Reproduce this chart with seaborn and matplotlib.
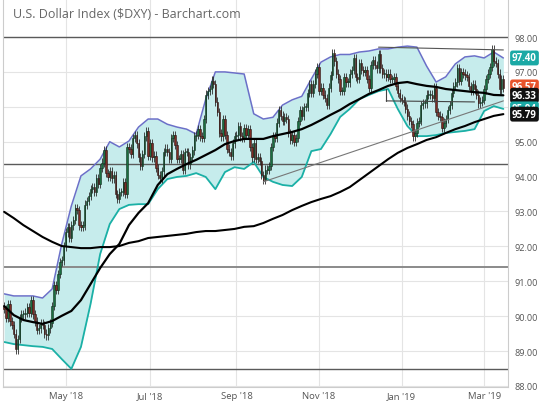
import numpy as np
import pandas as pd
import seaborn as sns
import matplotlib
matplotlib.use("Agg")
import matplotlib.pyplot as plt
import matplotlib.transforms as mtransforms

# daily closes of $DXY, one list per month (trading days)
mar18 = [90.20, 89.95, 90.35, 89.85, 89.75, 89.50, 89.05, 89.35, 89.95, 90.05, 90.05]
apr18 = [90.10, 90.25, 90.10, 90.45, 90.05, 89.85, 89.60, 89.65, 89.80, 89.75, 89.50,
         89.45, 89.65, 89.80, 90.30, 90.90, 90.75, 91.20, 91.55, 91.60, 92.00]
may18 = [92.40, 92.55, 92.25, 92.60, 92.75, 93.10, 93.05, 92.60, 92.55, 92.60, 93.20, 93.30,
         93.45, 93.65, 93.70, 93.55, 93.95, 93.80, 94.25, 94.40, 94.75, 94.10, 94.00]
jun18 = [94.15, 93.95, 94.05, 93.50, 93.35, 93.55, 93.55, 93.85, 93.50, 94.85, 94.80,
         94.65, 95.10, 95.20, 94.95, 94.55, 94.30, 94.65, 95.15, 95.30, 94.60]
jul18 = [94.95, 94.55, 94.60, 94.25, 94.05, 93.95, 94.15, 94.70, 94.80, 94.70, 94.50,
         95.10, 95.20, 94.90, 94.50, 94.50, 94.65, 94.20, 94.70, 94.70, 94.35, 94.55]
aug18 = [94.75, 95.15, 95.20, 95.35, 95.15, 95.10, 95.65, 96.35, 96.45, 96.50, 96.75, 96.65,
         96.15, 95.85, 95.25, 95.15, 95.65, 95.20, 94.80, 94.70, 94.60, 94.95, 95.15]
sep18 = [95.20, 95.45, 95.15, 95.10, 95.40, 95.20, 95.35, 94.85, 94.55, 94.95,
         94.50, 94.55, 94.45, 94.05, 93.90, 94.20, 94.20, 94.30, 94.85, 95.15]
oct18 = [95.10, 95.55, 95.90, 95.75, 95.60, 95.70, 95.65, 95.25, 95.05, 95.20, 95.00, 95.10,
         95.60, 95.90, 95.75, 96.00, 96.00, 96.40, 96.65, 96.40, 96.65, 96.95, 97.15]
nov18 = [96.45, 96.55, 96.35, 96.25, 96.05, 96.55, 96.90, 97.55, 97.30, 96.95, 96.80,
         96.45, 96.45, 96.85, 96.70, 96.70, 96.95, 97.05, 97.40, 96.85, 96.80, 97.25]
dec18 = [97.05, 97.00, 97.05, 96.80, 96.55, 97.20, 97.35, 97.20, 97.10, 97.50, 97.10,
         96.95, 96.95, 96.85, 96.95, 96.80, 96.80, 96.85, 96.60, 96.40, 96.25]
jan19 = [96.20, 96.15, 95.95, 95.75, 95.60, 95.50, 95.15, 95.25, 95.55, 95.60, 96.05, 96.10,
         96.10, 96.35, 96.35, 96.35, 96.25, 96.55, 95.85, 95.75, 95.70, 95.40, 95.55]
feb19 = [95.65, 95.90, 96.05, 96.40, 96.60, 96.70, 97.10, 96.75, 97.00, 96.95,
         96.90, 96.85, 96.60, 96.45, 96.65, 96.50, 96.35, 96.10, 96.15, 96.20]
mar19 = [96.50, 96.80, 96.95, 97.15, 97.65, 97.30, 97.25, 96.95, 96.50, 96.80, 96.55]
first_open = 90.30

# indicator values read every 5th trading day
upper_band = [90.64, 90.58, 90.58, 90.58, 90.52, 90.78, 92.07, 93.16, 94.02, 94.22, 94.50,
              95.00, 94.85, 95.02, 95.42, 95.65, 95.65, 95.50, 95.42, 95.36, 95.22, 96.22,
              97.00, 97.00, 96.97, 96.94, 95.80, 95.65, 95.70, 96.05, 96.20, 96.30, 96.80,
              97.28, 97.43, 97.50, 97.50, 97.57, 97.60, 97.66, 97.66, 97.71, 97.74, 97.71,
              97.17, 96.71, 96.86, 97.23, 97.43, 97.46, 97.40, 97.57, 97.40]
lower_band = [89.26, 89.20, 89.17, 89.14, 89.12, 89.06, 88.77, 88.49, 89.12, 90.35, 91.78,
              92.64, 93.07, 93.19, 93.21, 93.21, 93.64, 93.93, 93.99, 94.02, 94.10, 93.99,
              93.64, 94.13, 94.27, 94.22, 94.42, 93.99, 93.85, 93.76, 93.73, 93.99, 94.73,
              94.79, 95.22, 95.71, 95.94, 96.22, 96.34, 96.45, 96.51, 95.94, 95.45, 95.16,
              95.16, 95.19, 95.25, 95.28, 95.31, 95.36, 95.88, 96.02, 95.94]
ma50 = [90.29, 90.03, 89.89, 89.83, 89.78, 89.86, 90.01, 90.15, 90.46, 90.92, 91.38,
        91.78, 92.07, 92.61, 92.96, 93.24, 93.76, 94.07, 94.22, 94.36, 94.48, 94.62,
        94.76, 94.93, 95.02, 95.08, 95.08, 95.08, 95.16, 95.22, 95.28, 95.36, 95.48,
        95.62, 95.77, 95.91, 96.08, 96.22, 96.37, 96.48, 96.60, 96.68, 96.71, 96.65,
        96.60, 96.57, 96.51, 96.48, 96.45, 96.42, 96.40, 96.34, 96.33]
ma200 = [92.99, 92.81, 92.61, 92.44, 92.27, 92.13, 92.01, 91.98, 91.95, 91.95, 91.98,
         91.98, 92.01, 92.10, 92.15, 92.24, 92.27, 92.30, 92.33, 92.36, 92.41, 92.44,
         92.44, 92.47, 92.50, 92.56, 92.58, 92.67, 92.79, 92.90, 93.04, 93.16, 93.27,
         93.36, 93.44, 93.56, 93.70, 93.90, 94.10, 94.30, 94.50, 94.68, 94.82, 94.93,
         95.05, 95.13, 95.25, 95.36, 95.45, 95.56, 95.65, 95.74, 95.79]

# levels and drawn trend lines
levels = [98.0, 94.35, 91.4, 88.5]
trend_dates = ["2018-09-21", "2019-03-15"]
trend_vals = [93.85, 96.17]
resist_dates = ["2018-12-14", "2019-03-15"]
resist_vals = [97.71, 97.63]
box_dates = ["2018-12-20", "2019-02-22"]
box_vals = [96.17, 96.14]
box_top = 96.51

# last values shown in the price tags
tags = [("97.40", 97.40, "#1aa9a5"), ("96.57", 96.57, "#e8532b"),
        ("96.33", 96.33, "#111111"), ("95.94", 95.94, "#1aa9a5"),
        ("95.79", 95.79, "#111111")]

sns.set_theme(style="white")
plt.rcParams['font.family'] = ['Open Sans', 'DejaVu Sans']

days = pd.bdate_range("2018-03-16", "2019-03-15")
closes = np.array(mar18 + apr18 + may18 + jun18 + jul18 + aug18 + sep18 + oct18
                  + nov18 + dec18 + jan19 + feb19 + mar19)
n = len(closes)
days = days[:n]
pos = np.arange(n)
opens = np.concatenate([[first_open], closes[:-1]])

sample_pos = pos[::5]
ind = pd.DataFrame({"pos": sample_pos, "upper": upper_band, "lower": lower_band,
                    "ma50": ma50, "ma200": ma200})

fig = plt.figure(figsize=(5.4, 4.1), dpi=100)
ax = fig.add_axes([3 / 540, 22 / 410, 505 / 540, 388 / 410])

ax.fill_between(ind["pos"], ind["lower"], ind["upper"], color="#c6ecec", lw=0, zorder=1)
sns.lineplot(data=ind, x="pos", y="upper", ax=ax, color="#6b70c8", lw=1.1, zorder=2)
sns.lineplot(data=ind, x="pos", y="lower", ax=ax, color="#1bb0a6", lw=1.3, zorder=2)

for lv in levels:
    c = "#8a8a8a" if lv == 91.4 else "#5a5a5a"
    ax.axhline(lv, color=c, lw=1.4 if lv == 91.4 else 1.0, zorder=1.5)

# candles
wick = 0.12
up = closes >= opens
hi = np.maximum(opens, closes)
lo = np.minimum(opens, closes)
ax.vlines(pos, lo - wick, hi + wick, color="#2b2b2b", lw=0.6, zorder=3)
body = np.maximum(hi - lo, 0.03)
ax.bar(pos[up], body[up], bottom=lo[up], width=0.7, color="#1a6e40",
       edgecolor="#10301e", lw=0.4, zorder=4)
ax.bar(pos[~up], body[~up], bottom=lo[~up], width=0.7, color="#7d2c25",
       edgecolor="#2a1512", lw=0.4, zorder=4)

sns.lineplot(data=ind, x="pos", y="ma50", ax=ax, color="black", lw=1.6, zorder=5)
sns.lineplot(data=ind, x="pos", y="ma200", ax=ax, color="black", lw=1.5, zorder=5)

def to_pos(ds):
    return [days.get_loc(pd.Timestamp(d)) for d in ds]

ax.plot(to_pos(trend_dates), trend_vals, color="#777777", lw=0.8, zorder=5)
ax.plot(to_pos(resist_dates), resist_vals, color="#555555", lw=0.8, zorder=5)
bp = to_pos(box_dates)
ax.plot(bp, box_vals, color="#444444", lw=0.8, zorder=5)
ax.plot([bp[0], bp[0]], [box_vals[0], box_top], color="#444444", lw=0.8, zorder=5)

ax.set_xlim(-0.6, -0.6 + 505 / 1.92)
ax.set_ylim(87.97, 99.09)

months = ["2018-05", "2018-07", "2018-09", "2018-11", "2019-01", "2019-03"]
ym = days.strftime("%Y-%m")
mt = [int(np.argmax(ym == m)) for m in months]
ax.set_xticks(mt)
ax.set_xticklabels([days[i].strftime("%b '%y") for i in mt])
ax.set_yticks(range(88, 99))
ax.set_yticklabels([f"{v:.2f}" for v in range(88, 99)])
ax.yaxis.tick_right()
ax.tick_params(axis="y", length=0, pad=5, labelsize=6.6, labelcolor="#555555")
ax.tick_params(axis="x", length=0, pad=3, labelsize=6.8, labelcolor="#555555")
ax.grid(True, color="#e4e4e4", lw=0.8)
ax.set_axisbelow(True)
ax.set_xlabel("")
ax.set_ylabel("")
for s in ["left", "bottom", "right"]:
    ax.spines[s].set_color("#cccccc")
    ax.spines[s].set_linewidth(0.8)
ax.spines["top"].set_visible(False)

ax.text(10 / 505, 1 - 14 / 388, "U.S. Dollar Index ($DXY) - Barchart.com",
        transform=ax.transAxes, ha="left", va="center", fontsize=9, color="#666666")

trans = mtransforms.blended_transform_factory(ax.transAxes, ax.transData)
for txt, val, col in tags:
    ax.text(1.008, val, txt, transform=trans, ha="left", va="center", fontsize=7,
            fontweight="bold", color="white", zorder=10, clip_on=False,
            bbox=dict(boxstyle="round,pad=0.2,rounding_size=0.25", fc=col, ec="none"))

fig.savefig("out.png", dpi=100)
